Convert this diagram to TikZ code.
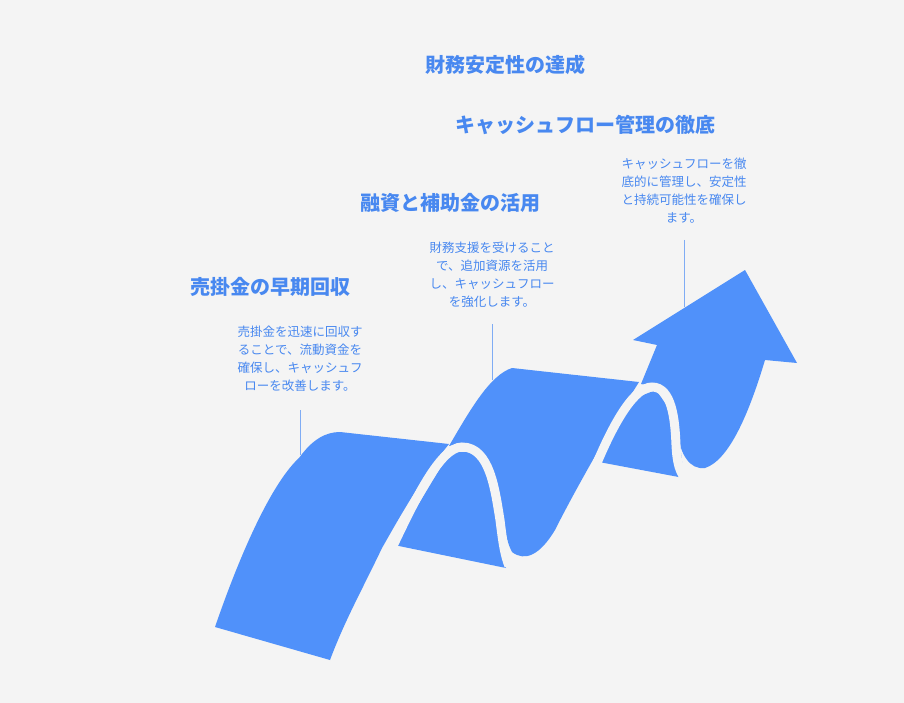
\documentclass[tikz,border=0pt]{standalone}
\usepackage{fontspec}
\setmainfont{Noto Sans CJK JP}
\usetikzlibrary{positioning}
\definecolor{ribbon}{RGB}{80,145,250}
\definecolor{ink}{RGB}{72,136,240}
\definecolor{paper}{RGB}{244,244,244}

\begin{document}
\begin{tikzpicture}[x=1pt,y=-1pt,
	title/.style={text=ink,font=\fontsize{20}{24}\selectfont\bfseries},
	desc/.style={text=ink,font=\fontsize{12.5}{18}\selectfont,align=center},
	gap/.style={draw=paper,line width=9pt},
	lead/.style={draw=ink!70,line width=0.6pt}]
		\fill[paper] (0,0) rectangle (904,703);
		
		% back pieces of the ribbon
		\fill[ribbon] (394,545) -- (506,568) -- (498,500) -- (476,452) -- (450,452) -- cycle;
		\fill[ribbon] (599,462) -- (684,478) -- (677,420) -- (656,390) -- (630,400) -- cycle;
		
		% front pieces
		\fill[ribbon] (215,627) .. controls (245,540) and (275,480) .. (299,458)
			.. controls (312,440) and (325,432) .. (340,432) -- (449,444)
			.. controls (420,480) and (398,520) .. (382,548)
			.. controls (362,590) and (345,620) .. (330,660) -- cycle;
		\fill[ribbon] (449,446) .. controls (470,410) and (490,375) .. (512,368) -- (639,382)
			.. controls (615,420) and (575,490) .. (555,530)
			.. controls (540,555) and (525,562) .. (512,552)
			.. controls (500,530) and (500,470) .. (480,452)
			.. controls (470,444) and (458,444) .. (449,446) -- cycle;
		\fill[ribbon] (641,384) -- (657,345) -- (633,340) -- (745,270) -- (797,363) -- (765,360)
			.. controls (750,410) and (730,460) .. (705,468)
			.. controls (690,470) and (680,455) .. (677,430)
			.. controls (674,400) and (665,387) .. (652,386) -- cycle;
		
		% white bands
		\draw[gap] (392,548) .. controls (415,500) and (440,447) .. (462,447)
			.. controls (490,447) and (495,490) .. (500,520)
			.. controls (503,545) and (505,556) .. (509,566);
		\draw[gap] (597,463) .. controls (615,420) and (635,387) .. (652,387)
			.. controls (672,387) and (675,420) .. (676,445)
			.. controls (677,465) and (680,472) .. (686,480);
		
		% labels
		\node[title] (goal) at (505,65) {財務安定性の達成};
		\node[title] (t3) at (585,125) {キャッシュフロー管理の徹底};
		\node[title] (t2) at (450,203) {融資と補助金の活用};
		\node[title] (t1) at (270,287) {売掛金の早期回収};
		
		\node[desc] (d1) at (300,359) {売掛金を迅速に回収す\\ることで、流動資金を\\確保し、キャッシュフ\\ローを改善します。};
		\node[desc] (d2) at (492,275) {財務支援を受けること\\で、追加資源を活用\\し、キャッシュフロー\\を強化します。};
		\node[desc] (d3) at (684,191) {キャッシュフローを徹\\底的に管理し、安定性\\と持続可能性を確保し\\ます。};
		
		\coordinate (e1) at (300,455);
		\coordinate (e2) at (492,380);
		\coordinate (e3) at (684,307);
		\draw[lead] (d1.south |- 0,410) -- (e1);
		\draw[lead] (d2.south |- 0,324) -- (e2);
		\draw[lead] (d3.south |- 0,240) -- (e3);
	\end{tikzpicture}
\end{document}
